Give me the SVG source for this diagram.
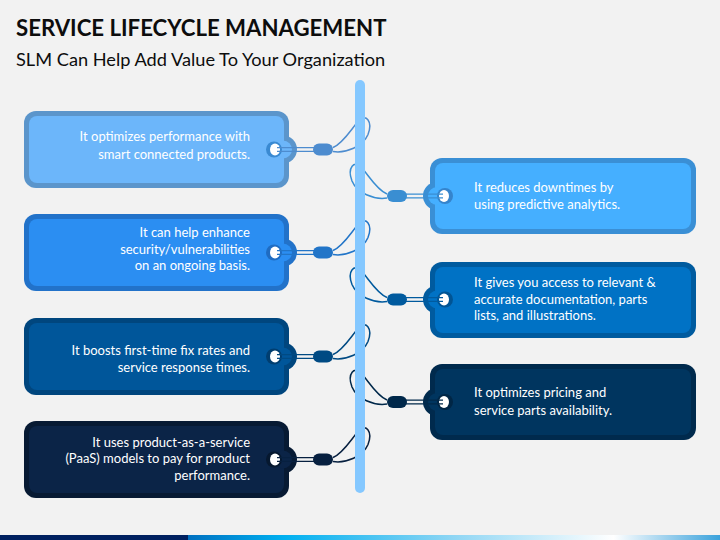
<svg xmlns="http://www.w3.org/2000/svg" width="720" height="540" viewBox="0 0 720 540">
<defs>
<linearGradient id="bar" x1="0" x2="1" y1="0" y2="0">
<stop offset="0" stop-color="#0070C0"/>
<stop offset="0.18" stop-color="#00B0F0"/>
<stop offset="0.5" stop-color="#8FD6F4"/>
<stop offset="0.8" stop-color="#FFFFFF"/>
<stop offset="1" stop-color="#3AA2DC"/>
</linearGradient>
<style>
.t{fill:#FFFFFF;font-family:Lato,"Liberation Sans",sans-serif;font-size:13px;}
.l{text-anchor:end;}
.h{fill:#FFFFFF;}
.s{fill:none;stroke-width:1.5;}
.w{fill:none;stroke-width:1.2;}
</style>
</defs>
<rect width="720" height="540" fill="#F2F2F2"/>
<text x="16" y="36" font-family="Lato,'Liberation Sans',sans-serif" font-size="22.2" font-weight="bold" fill="#0D0D0D">SERVICE LIFECYCLE MANAGEMENT</text>
<text x="16" y="66" font-family="Lato,'Liberation Sans',sans-serif" font-size="18.2" fill="#0D0D0D">SLM Can Help Add Value To Your Organization</text>

<g id="tag-l1">
<rect x="24" y="111" width="265" height="77" rx="12" fill="#5B95CB"/>
<circle cx="283" cy="149.5" r="14" fill="#5B95CB"/>
<rect x="29" y="116" width="255" height="67" rx="8" fill="#6CB6FA"/>
<circle cx="283" cy="149.5" r="9" fill="#6CB6FA"/>
<circle cx="274" cy="149.5" r="8" fill="#3A8AD2"/>
<ellipse class="h" cx="275" cy="149.5" rx="5" ry="6"/>
<text class="t l" x="250" y="141">It optimizes performance with</text>
<text class="t l" x="250" y="159">smart connected products.</text>
</g>
<g id="tag-l2">
<rect x="24" y="214" width="265" height="77" rx="12" fill="#2272C9"/>
<circle cx="283" cy="252.5" r="14" fill="#2272C9"/>
<rect x="29" y="219" width="255" height="67" rx="8" fill="#2B8EF2"/>
<circle cx="283" cy="252.5" r="9" fill="#2B8EF2"/>
<circle cx="274" cy="252.5" r="8" fill="#1F6CC2"/>
<ellipse class="h" cx="275" cy="252.5" rx="5" ry="6"/>
<text class="t l" x="250" y="237">It can help enhance</text>
<text class="t l" x="250" y="254">security/vulnerabilities</text>
<text class="t l" x="250" y="270">on an ongoing basis.</text>
</g>
<g id="tag-l3">
<rect x="24" y="318" width="265" height="77" rx="12" fill="#00467E"/>
<circle cx="283" cy="356.5" r="14" fill="#00467E"/>
<rect x="29" y="323" width="255" height="67" rx="8" fill="#00569A"/>
<circle cx="283" cy="356.5" r="9" fill="#00569A"/>
<circle cx="274" cy="356.5" r="8" fill="#003E70"/>
<ellipse class="h" cx="275" cy="356.5" rx="5" ry="6"/>
<text class="t l" x="250" y="355">It boosts first-time fix rates and</text>
<text class="t l" x="250" y="372">service response times.</text>
</g>
<g id="tag-l4">
<rect x="24" y="421" width="265" height="77" rx="12" fill="#071A33"/>
<circle cx="283" cy="459.5" r="14" fill="#071A33"/>
<rect x="29" y="426" width="255" height="67" rx="8" fill="#0B2447"/>
<circle cx="283" cy="459.5" r="9" fill="#0B2447"/>
<circle cx="274" cy="459.5" r="8" fill="#06182F"/>
<ellipse class="h" cx="275" cy="459.5" rx="5" ry="6"/>
<text class="t l" x="250" y="447">It uses product-as-a-service</text>
<text class="t l" x="250" y="463">(PaaS) models to pay for product</text>
<text class="t l" x="250" y="480">performance.</text>
</g>
<g id="tag-r1">
<rect x="430" y="158" width="266" height="76" rx="12" fill="#3A8FD5"/>
<circle cx="437" cy="196" r="14" fill="#3A8FD5"/>
<rect x="435" y="163" width="256" height="66" rx="8" fill="#45AFFF"/>
<circle cx="437" cy="196" r="9" fill="#45AFFF"/>
<circle cx="445" cy="196" r="8" fill="#3584CC"/>
<ellipse class="h" cx="444" cy="196" rx="5" ry="6"/>
<text class="t" x="474" y="192">It reduces downtimes by</text>
<text class="t" x="474" y="209">using predictive analytics.</text>
</g>
<g id="tag-r2">
<rect x="430" y="262" width="266" height="76" rx="12" fill="#005B9F"/>
<circle cx="437" cy="299.5" r="14" fill="#005B9F"/>
<rect x="435" y="267" width="256" height="66" rx="8" fill="#0072C5"/>
<circle cx="437" cy="299.5" r="9" fill="#0072C5"/>
<circle cx="445" cy="299.5" r="8" fill="#005494"/>
<ellipse class="h" cx="444" cy="299.5" rx="5" ry="6"/>
<text class="t" x="474" y="287">It gives you access to relevant &amp;</text>
<text class="t" x="474" y="304">accurate documentation, parts</text>
<text class="t" x="474" y="320">lists, and illustrations.</text>
</g>
<g id="tag-r3">
<rect x="430" y="364" width="266" height="76" rx="12" fill="#002A4D"/>
<circle cx="437" cy="402" r="14" fill="#002A4D"/>
<rect x="435" y="369" width="256" height="66" rx="8" fill="#00355F"/>
<circle cx="437" cy="402" r="9" fill="#00355F"/>
<circle cx="445" cy="402" r="8" fill="#002645"/>
<ellipse class="h" cx="444" cy="402" rx="5" ry="6"/>
<text class="t" x="474" y="397">It optimizes pricing and</text>
<text class="t" x="474" y="415">service parts availability.</text>
</g>

<g id="connectors">
<g stroke="#4D8CCF" fill="#4D8CCF">
<path class="w" d="M277,147.7 H314 M277,151.3 H314"/>
<rect x="313" y="143.5" width="20" height="12" rx="6" stroke="none"/>
<path class="s" d="M333,147.5 C343,143.5 351,129.5 358,121.5 C366,112.5 373,121.5 368,134.5 C363,146.5 346,153.5 333,151.5"/>
</g>
<g stroke="#2275C8" fill="#2275C8">
<path class="w" d="M277,250.7 H314 M277,254.3 H314"/>
<rect x="313" y="246.5" width="20" height="12" rx="6" stroke="none"/>
<path class="s" d="M333,250.5 C343,246.5 351,232.5 358,224.5 C366,215.5 373,224.5 368,237.5 C363,249.5 346,256.5 333,254.5"/>
</g>
<g stroke="#004A83" fill="#004A83">
<path class="w" d="M277,354.7 H314 M277,358.3 H314"/>
<rect x="313" y="350.5" width="20" height="12" rx="6" stroke="none"/>
<path class="s" d="M333,354.5 C343,350.5 351,336.5 358,328.5 C366,319.5 373,328.5 368,341.5 C363,353.5 346,360.5 333,358.5"/>
</g>
<g stroke="#072040" fill="#072040">
<path class="w" d="M277,457.7 H314 M277,461.3 H314"/>
<rect x="313" y="453.5" width="20" height="12" rx="6" stroke="none"/>
<path class="s" d="M333,457.5 C343,453.5 351,439.5 358,431.5 C366,422.5 373,431.5 368,444.5 C363,456.5 346,463.5 333,461.5"/>
</g>
<g stroke="#3A8ED2" fill="#3A8ED2">
<path class="w" d="M443,194.2 H406 M443,197.8 H406"/>
<rect x="387" y="190" width="20" height="12" rx="6" stroke="none"/>
<path class="s" d="M387,194 C377,190 369,176 362,168 C354,159 347,168 352,181 C357,193 374,200 387,198"/>
</g>
<g stroke="#005A9E" fill="#005A9E">
<path class="w" d="M443,297.7 H406 M443,301.3 H406"/>
<rect x="387" y="293.5" width="20" height="12" rx="6" stroke="none"/>
<path class="s" d="M387,297.5 C377,293.5 369,279.5 362,271.5 C354,262.5 347,271.5 352,284.5 C357,296.5 374,303.5 387,301.5"/>
</g>
<g stroke="#00284A" fill="#00284A">
<path class="w" d="M443,400.2 H406 M443,403.8 H406"/>
<rect x="387" y="396" width="20" height="12" rx="6" stroke="none"/>
<path class="s" d="M387,400 C377,396 369,382 362,374 C354,365 347,374 352,387 C357,399 374,406 387,404"/>
</g>
</g>

<g id="pole">
<rect x="355" y="80" width="10" height="413" rx="5" fill="#85C8FF"/>
</g>

<g id="footer">
<rect x="0" y="535" width="188" height="5" fill="#002060"/>
<rect x="188" y="535" width="532" height="5" fill="url(#bar)"/>
</g>
</svg>
